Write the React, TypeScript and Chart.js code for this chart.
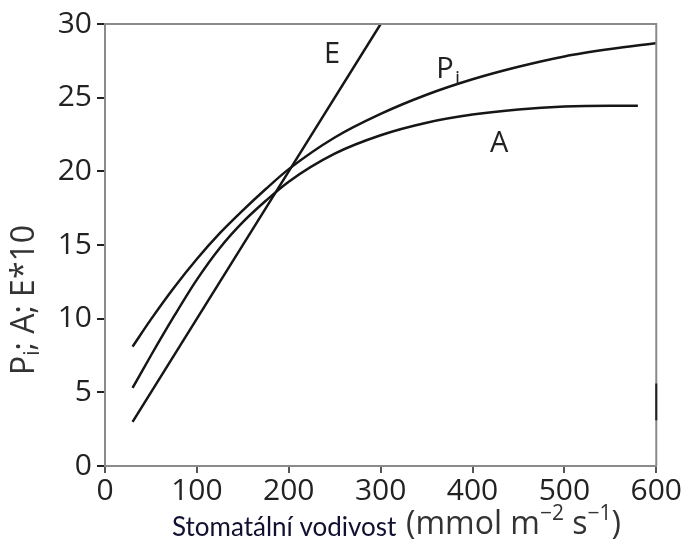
import React, { useEffect, useRef } from "react";
import { Chart, registerables } from "chart.js";

Chart.register(...registerables);

const xPi = [30, 50, 75, 100, 125, 150, 175, 200, 250, 300, 350, 400, 450, 500, 550, 600];
const yPi = [8.1, 9.95, 12.1, 14.05, 15.8, 17.35, 18.8, 20.15, 22.3, 23.9, 25.2, 26.25, 27.1, 27.8, 28.3, 28.7];
const xA = [30, 50, 75, 100, 125, 150, 175, 200, 250, 300, 350, 400, 450, 500, 550, 580];
const yA = [5.3, 7.5, 10.15, 12.65, 14.8, 16.55, 18.0, 19.3, 21.2, 22.45, 23.3, 23.85, 24.2, 24.4, 24.45, 24.45];
const xE = [30, 300];
const yE = [3, 30];
const xTicks = [0, 100, 200, 300, 400, 500, 600];
const yTicks = [0, 5, 10, 15, 20, 25, 30];

const toPts = (xs: number[], ys: number[]) => xs.map((x, i) => ({ x, y: ys[i] }));

const FONT = "'Open Sans', 'DejaVu Sans', sans-serif";

const decor = {
  id: "decor",
  afterDraw(chart: any) {
    const { ctx, chartArea, scales } = chart;
    const xs = scales.x;
    const ys = scales.y;
    ctx.save();
    // top and right frame
    ctx.strokeStyle = "#8a8a8a";
    ctx.lineWidth = 2;
    ctx.beginPath();
    ctx.moveTo(chartArea.left, chartArea.top);
    ctx.lineTo(chartArea.right, chartArea.top);
    ctx.lineTo(chartArea.right, chartArea.bottom);
    ctx.stroke();
    ctx.strokeStyle = "#222";
    ctx.beginPath();
    ctx.moveTo(chartArea.right, ys.getPixelForValue(5.6));
    ctx.lineTo(chartArea.right, ys.getPixelForValue(3.1));
    ctx.stroke();

    // curve labels
    ctx.fillStyle = "#222";
    ctx.font = `29px ${FONT}`;
    ctx.textAlign = "center";
    ctx.textBaseline = "middle";
    ctx.fillText("E", xs.getPixelForValue(247), ys.getPixelForValue(27.9));
    ctx.fillText("A", xs.getPixelForValue(429), ys.getPixelForValue(21.9));
    const px = xs.getPixelForValue(370);
    const py = ys.getPixelForValue(26.9);
    ctx.fillText("P", px, py);
    ctx.font = `20px ${FONT}`;
    ctx.textAlign = "left";
    ctx.fillText("i", px + 10, py + 10);

    // y title
    ctx.save();
    ctx.translate(25, 300);
    ctx.rotate(-Math.PI / 2);
    ctx.textBaseline = "middle";
    ctx.fillStyle = "#333";
    const partA = "P";
    const partB = "i";
    const partC = "; A; E*10";
    ctx.font = `32px ${FONT}`;
    const wA = ctx.measureText(partA).width;
    const wC = ctx.measureText(partC).width;
    ctx.font = `21px ${FONT}`;
    const wB = ctx.measureText(partB).width;
    const total = wA + wB + wC;
    let cx = -total / 2;
    ctx.textAlign = "left";
    ctx.font = `32px ${FONT}`;
    ctx.fillText(partA, cx, 0);
    cx += wA;
    ctx.font = `21px ${FONT}`;
    ctx.fillText(partB, cx, 8);
    cx += wB;
    ctx.font = `32px ${FONT}`;
    ctx.fillText(partC, cx, 0);
    ctx.restore();

    // x title
    const ty = 525;
    ctx.textAlign = "left";
    ctx.textBaseline = "middle";
    let tx = 172;
    ctx.fillStyle = "#101030";
    ctx.font = `26px 'Lato', ${FONT}`;
    const s1 = "Stomatální vodivost";
    ctx.fillText(s1, tx, ty + 3);
    tx = 406;
    ctx.fillStyle = "#333";
    const segs: [string, boolean][] = [
      ["(mmol m", false],
      ["\u22122", true],
      [" s", false],
      ["\u22121", true],
      [")", false],
    ];
    for (const [t, sup] of segs) {
      ctx.font = sup ? `21px ${FONT}` : `32px ${FONT}`;
      ctx.fillText(t, tx, sup ? ty - 11 : ty);
      tx += ctx.measureText(t).width;
    }
    ctx.restore();
  },
};

export default function App() {
  const ref = useRef<HTMLCanvasElement>(null);
  useEffect(() => {
    if (!ref.current) return;
    const lineStyle = {
      borderColor: "#161616",
      borderWidth: 2.5,
      pointRadius: 0,
      fill: false,
      cubicInterpolationMode: "monotone" as const,
    };
    const chart = new Chart(ref.current, {
      type: "line",
      data: {
        datasets: [
          { label: "Pi", data: toPts(xPi, yPi), ...lineStyle },
          { label: "A", data: toPts(xA, yA), ...lineStyle },
          { label: "E", data: toPts(xE, yE), ...lineStyle },
        ],
      },
      options: {
        animation: false,
        responsive: false,
        events: [],
        layout: { padding: { left: 0, right: 24, top: 24, bottom: 0 } },
        plugins: { legend: { display: false }, tooltip: { enabled: false } },
        scales: {
          x: {
            type: "linear",
            min: 0,
            max: 600,
            afterBuildTicks: (s: any) => {
              s.ticks = xTicks.map((v) => ({ value: v }));
            },
            afterFit: (s: any) => {
              s.height = 83;
            },
            border: { display: true, color: "#8a8a8a", width: 2 },
            grid: { drawOnChartArea: false, drawTicks: true, tickLength: 7, color: "#555", lineWidth: 2 },
            ticks: { color: "#222", font: { family: FONT, size: 30 }, padding: 0, maxRotation: 0, autoSkip: false },
          },
          y: {
            type: "linear",
            min: 0,
            max: 30,
            afterBuildTicks: (s: any) => {
              s.ticks = yTicks.map((v) => ({ value: v }));
            },
            afterFit: (s: any) => {
              s.width = 105;
            },
            border: { display: true, color: "#8a8a8a", width: 2 },
            grid: { drawOnChartArea: false, drawTicks: true, tickLength: 8, color: "#222", lineWidth: 2 },
            ticks: { color: "#222", font: { family: FONT, size: 30 }, padding: 5, autoSkip: false },
          },
        },
      },
      plugins: [decor],
    });
    return () => chart.destroy();
  }, []);
  return (
    <div style={{ position: "fixed", left: 0, top: 0, width: 682, height: 549, background: "#fff" }}>
      <canvas ref={ref} width={682} height={549} style={{ width: 682, height: 549 }} />
    </div>
  );
}
